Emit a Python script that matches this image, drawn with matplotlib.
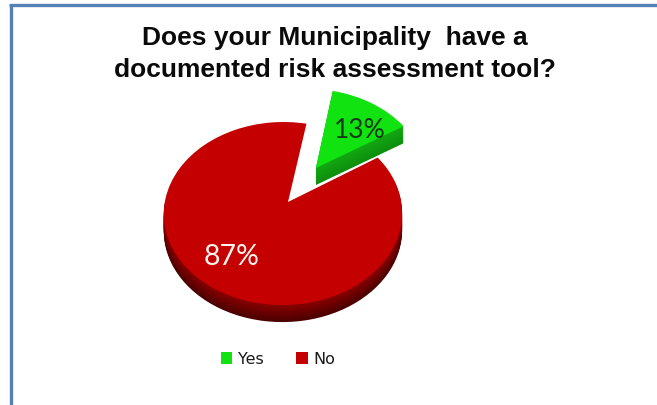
import numpy as np
import matplotlib
matplotlib.use('Agg')
import matplotlib.pyplot as plt
from matplotlib.transforms import Transform, Affine2D
from matplotlib.lines import Line2D

categories = ['Yes', 'No']
values = [13, 87]
labels = ['13%', '87%']
title_lines = ['Does your Municipality  have a', 'documented risk assessment tool?']

top_colors = ['#10e310', '#c40000']
side_light = ['#12a812', '#8a0000']
side_dark = ['#0d8f0d', '#4a0000']
explode = [0.47, 0]
depth = 17


class TiltedDisc(Transform):
    # unit circle -> pixels, with the far edge shrunk as on a tilted 3D pie
    input_dims = 2
    output_dims = 2

    def __init__(self, cx, cy, rx, ry, kv, ku):
        super().__init__()
        self.cx, self.cy, self.rx, self.ry = cx, cy, rx, ry
        self.kv, self.ku = kv, ku

    def transform_non_affine(self, xy):
        xy = np.asarray(xy, dtype=float)
        w = 1 + self.kv * xy[:, 1] + self.ku * xy[:, 0]
        return np.column_stack([self.cx + self.rx * xy[:, 0] / w,
                                self.cy - self.ry * xy[:, 1] / w])


def mix(c1, c2, t):
    a = np.array(matplotlib.colors.to_rgb(c1))
    b = np.array(matplotlib.colors.to_rgb(c2))
    return tuple(a + (b - a) * t)


fig = plt.figure(figsize=(6.57, 4.06), dpi=100, facecolor='white')
ax = fig.add_axes([0, 0, 1, 1])

# the pulled-out slice gets its own, flatter tilt
discs = [TiltedDisc(286, 203, 119, 90, 0.07, 0.042),
         TiltedDisc(288, 203, 118, 90, 0.126, 0.042)]
start = 33

# side wall first, deepest layer at the back
for d in range(depth, 0, -1):
    t = d / depth
    cols = [mix(side_light[i], side_dark[i], t) for i in range(2)]
    wedges, _ = ax.pie(values, explode=explode, startangle=start, colors=cols,
                       wedgeprops={'linewidth': 0})
    # the red wall only shows along the front of the disc
    wedges[1].set_theta1(180)
    for w, disc in zip(wedges, discs):
        w.set_transform(disc + Affine2D().translate(0, d) + ax.transData)

wedges, _ = ax.pie(values, explode=explode, startangle=start, colors=top_colors,
                   wedgeprops={'linewidth': 0})
for w, disc in zip(wedges, discs):
    w.set_transform(disc + ax.transData)

ax.set_aspect('auto')
ax.set_xlim(0, 657)
ax.set_ylim(406, 0)
ax.axis('off')

ax.text(360, 131, labels[0], color='#12391a', fontsize=19, family='Lato',
        ha='center', va='center')
ax.text(232, 257, labels[1], color='#fff4f0', fontsize=20.5, family='Lato',
        ha='center', va='center')

ax.text(335, 38, title_lines[0], fontsize=19, fontweight='bold',
        family='Liberation Sans', color='#0a0a0a', ha='center', va='center')
ax.text(335, 70, title_lines[1], fontsize=19, fontweight='bold',
        family='Liberation Sans', color='#0a0a0a', ha='center', va='center')

ax.legend(wedges, categories, ncol=2, frameon=False, loc='center',
          bbox_to_anchor=(278, 360), bbox_transform=ax.transData,
          handlelength=0.72, handleheight=0.72, handletextpad=0.35,
          columnspacing=2.05, prop={'family': 'DejaVu Sans', 'size': 11.5},
          labelcolor='#1a1a1a')

# frame of the slide, open at the right and bottom
for xs, ys in [([10.5, 10.5], [406, 6]), ([9, 657], [6, 6])]:
    ax.add_line(Line2D(xs, ys, color='#5580b3', lw=2.4, solid_capstyle='butt'))

fig.savefig('out.png', dpi=100)
